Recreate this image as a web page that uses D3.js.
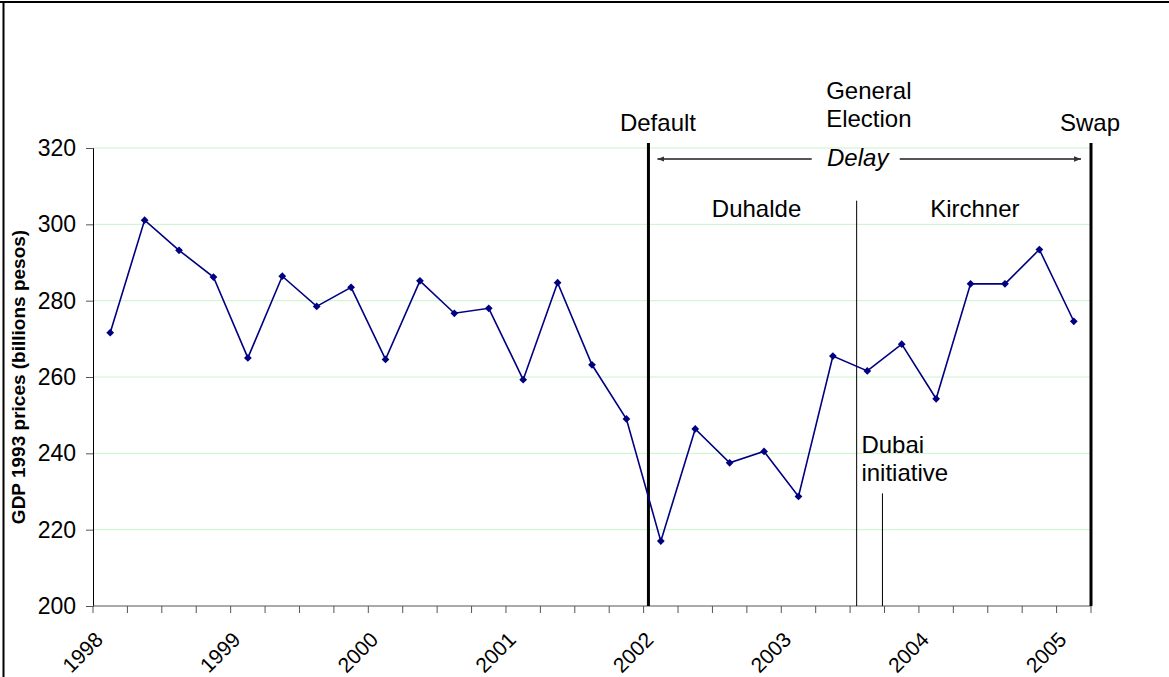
<!DOCTYPE html>
<html>
<head>
<meta charset="utf-8">
<script src="https://cdn.jsdelivr.net/npm/d3@7"></script>
<style>
  html, body { margin: 0; padding: 0; background: #fff; }
  svg { display: block; font-family: "Liberation Sans", Arial, sans-serif; }
</style>
</head>
<body>
<div id="chart"></div>
<script>
// quarterly GDP, 1993 prices (billions of pesos)
const quarters = [
  '1998Q1', '1998Q2', '1998Q3', '1998Q4',
  '1999Q1', '1999Q2', '1999Q3', '1999Q4',
  '2000Q1', '2000Q2', '2000Q3', '2000Q4',
  '2001Q1', '2001Q2', '2001Q3', '2001Q4',
  '2002Q1', '2002Q2', '2002Q3', '2002Q4',
  '2003Q1', '2003Q2', '2003Q3', '2003Q4',
  '2004Q1', '2004Q2', '2004Q3', '2004Q4',
  '2005Q1'
];
const gdp = [
  271.6, 301.1, 293.2, 286.2,
  265.0, 286.4, 278.5, 283.5,
  264.6, 285.2, 276.7, 278.0,
  259.3, 284.7, 263.2, 249.0,
  217.0, 246.4, 237.5, 240.5,
  228.7, 265.5, 261.6, 268.6,
  254.3, 284.4, 284.4, 293.4,
  274.6
];
const yearLabels = ['1998', '1999', '2000', '2001', '2002', '2003', '2004', '2005'];
const yTicks = [200, 220, 240, 260, 280, 300, 320];

// event markers, position in quarters from start of 1998
const eventNames = ['Default', 'General Election', 'Dubai initiative', 'Swap'];
const eventPos = [16.14, 22.19, 22.94, 29.0];
const periods = ['Duhalde', 'Kirchner'];

const width = 1169, height = 677;
const margin = { top: 148, right: 78, bottom: 71, left: 93 };

const svg = d3.select('#chart').append('svg')
  .attr('width', width)
  .attr('height', height);

const x = d3.scaleBand()
  .domain(quarters)
  .range([margin.left, width - margin.right])
  .padding(0);
const xq = d3.scaleLinear()
  .domain([0, quarters.length])
  .range([margin.left, width - margin.right]);
const y = d3.scaleLinear()
  .domain([200, 320])
  .range([height - margin.bottom, margin.top]);

// frame
svg.append('line')
  .attr('x1', 0).attr('x2', width).attr('y1', 2).attr('y2', 2)
  .attr('stroke', '#000').attr('stroke-width', 2);
svg.append('line')
  .attr('x1', 3.5).attr('x2', 3.5).attr('y1', 1).attr('y2', height)
  .attr('stroke', '#000').attr('stroke-width', 2);

// gridlines
svg.append('g')
  .selectAll('line')
  .data(yTicks.slice(1))
  .enter()
  .append('line')
  .attr('x1', xq(0))
  .attr('x2', xq(quarters.length))
  .attr('y1', d => y(d))
  .attr('y2', d => y(d))
  .attr('stroke', '#c6f5c6')
  .attr('stroke-width', 1);

// y axis
const yAxis = svg.append('g')
  .attr('transform', `translate(${margin.left},0)`)
  .call(d3.axisLeft(y).tickValues(yTicks).tickSize(7).tickPadding(10).tickFormat(d3.format('d')));
yAxis.select('.domain').attr('stroke', '#000');
yAxis.selectAll('.tick line').attr('stroke', '#555');
yAxis.selectAll('.tick text')
  .attr('font-size', 23)
  .attr('fill', '#000')
  .attr('font-family', '"Liberation Sans", Arial, sans-serif');

// x axis: ticks between quarters
const xAxis = svg.append('g')
  .attr('transform', `translate(0,${y(200)})`);
xAxis.append('line')
  .attr('x1', xq(0)).attr('x2', xq(quarters.length))
  .attr('stroke', '#555');
xAxis.selectAll('line.tk')
  .data(d3.range(quarters.length + 1))
  .enter()
  .append('line')
  .attr('class', 'tk')
  .attr('x1', d => xq(d)).attr('x2', d => xq(d))
  .attr('y1', 0).attr('y2', 7)
  .attr('stroke', '#555');
xAxis.selectAll('text')
  .data(yearLabels)
  .enter()
  .append('text')
  .attr('text-anchor', 'end')
  .attr('font-size', 21)
  .attr('transform', (d, i) => {
    const cx = x(quarters[i * 4]) + x.bandwidth() / 2;
    return `translate(${cx - 6},${35}) rotate(-45)`;
  })
  .text(d => d);

// y axis title
svg.append('text')
  .attr('transform', `translate(25,${(y(200) + y(320)) / 2}) rotate(-90)`)
  .attr('text-anchor', 'middle')
  .attr('font-size', 19)
  .attr('font-weight', 'bold')
  .text('GDP 1993 prices (billions pesos)');

// event lines
const evTop = [321.3, 306.2, 229.5, 321.3];
const evWidth = [3, 1, 1, 3];
svg.append('g')
  .selectAll('line')
  .data(eventPos)
  .enter()
  .append('line')
  .attr('x1', d => xq(d)).attr('x2', d => xq(d))
  .attr('y1', (d, i) => y(evTop[i]))
  .attr('y2', y(200))
  .attr('stroke', '#000')
  .attr('stroke-width', (d, i) => evWidth[i]);

// series
const pts = gdp.map((v, i) => [x(quarters[i]) + x.bandwidth() / 2, y(v)]);
svg.append('path')
  .attr('d', d3.line()(pts))
  .attr('fill', 'none')
  .attr('stroke', '#000080')
  .attr('stroke-width', 1.6);
svg.append('g')
  .selectAll('path')
  .data(pts)
  .enter()
  .append('path')
  .attr('d', d3.symbol().type(d3.symbolSquare).size(30))
  .attr('transform', d => `translate(${d[0]},${d[1]}) rotate(45)`)
  .attr('fill', '#000080');

// annotations
const ann = svg.append('g').attr('font-size', 24).attr('fill', '#000');
ann.append('text')
  .attr('x', xq(eventPos[0]) - 28.5).attr('y', 131)
  .text(eventNames[0]);
const geX = xq(eventPos[1]) - 30.5;
const ge = ann.append('text').attr('x', geX).attr('y', 99);
ge.append('tspan').attr('x', geX).text('General');
ge.append('tspan').attr('x', geX).attr('dy', 28).text('Election');
ann.append('text')
  .attr('x', xq(eventPos[3]) - 31).attr('y', 131)
  .text(eventNames[3]);
const dbX = xq(eventPos[2]) - 21;
const db = ann.append('text').attr('x', dbX).attr('y', 453);
db.append('tspan').attr('x', dbX).text('Dubai');
db.append('tspan').attr('x', dbX).attr('dy', 28).text('initiative');

ann.append('text')
  .attr('x', (xq(eventPos[0]) + xq(eventPos[1])) / 2 + 4).attr('y', 217)
  .attr('text-anchor', 'middle')
  .text(periods[0]);
ann.append('text')
  .attr('x', (xq(eventPos[1]) + xq(eventPos[3])) / 2 + 1).attr('y', 217)
  .attr('text-anchor', 'middle')
  .text(periods[1]);

// delay arrow
const delayY = 159;
const delayMid = (xq(eventPos[0]) + xq(eventPos[3])) / 2 - 12;
const defs = svg.append('defs');
defs.append('marker')
  .attr('id', 'ah')
  .attr('viewBox', '0 0 10 10')
  .attr('refX', 10).attr('refY', 5)
  .attr('markerWidth', 7).attr('markerHeight', 7)
  .attr('markerUnits', 'userSpaceOnUse')
  .attr('orient', 'auto')
  .append('path')
  .attr('d', 'M0,1 L10,5 L0,9 Z')
  .attr('fill', '#333');
svg.append('line')
  .attr('x1', delayMid - 46).attr('x2', xq(eventPos[0]) + 9)
  .attr('y1', delayY).attr('y2', delayY)
  .attr('stroke', '#555').attr('stroke-width', 1.8)
  .attr('marker-end', 'url(#ah)');
svg.append('line')
  .attr('x1', delayMid + 42).attr('x2', xq(eventPos[3]) - 10)
  .attr('y1', delayY).attr('y2', delayY)
  .attr('stroke', '#555').attr('stroke-width', 1.8)
  .attr('marker-end', 'url(#ah)');
svg.append('text')
  .attr('x', delayMid).attr('y', 166)
  .attr('text-anchor', 'middle')
  .attr('font-size', 24)
  .attr('font-style', 'italic')
  .text('Delay');
</script>
</body>
</html>
